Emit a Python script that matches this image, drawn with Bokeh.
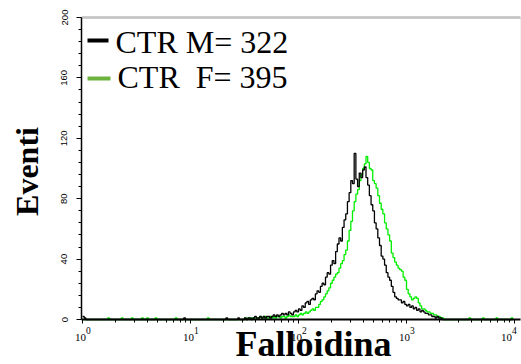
import numpy as np
from math import pi
from bokeh.plotting import figure
from bokeh.models import Range1d, FixedTicker, Label, LabelSet, BoxAnnotation, ColumnDataSource
from bokeh.embed import file_html
from bokeh.resources import INLINE

# ---- data -----------------------------------------------------------
n_channels = 256          # log-scaled channels covering 10^0 .. 10^4
decades = 4

black_counts = [
    2, 1, 0, 0, 0, 0, 0, 0, 0, 0, 0, 0, 0, 0, 0, 0,
    0, 0, 0, 0, 0, 0, 0, 0, 0, 0, 0, 0, 0, 0, 0, 0,
    0, 0, 0, 0, 0, 0, 0, 0, 0, 0, 0, 0, 0, 0, 0, 0,
    0, 0, 0, 0, 0, 0, 0, 0, 0, 0, 0, 0, 1, 0, 0, 0,
    0, 0, 0, 0, 0, 0, 0, 0, 0, 0, 0, 0, 0, 0, 0, 0,
    0, 0, 0, 0, 0, 1, 0, 0, 0, 0, 0, 0, 1, 0, 0, 0,
    1, 0, 1, 1, 0, 1, 2, 1, 1, 2, 1, 2, 1, 2, 2, 1,
    2, 3, 2, 3, 2, 3, 4, 3, 4, 3, 5, 4, 3, 5, 6, 5,
    7, 6, 9, 8, 11, 12, 10, 13, 14, 13, 17, 19, 18, 22, 24, 23,
    28, 31, 30, 36, 39, 37, 45, 50, 54, 52, 61, 66, 70, 78, 84, 92,
    90, 110, 93, 88, 97, 94, 99, 101, 94, 89, 82, 76, 72, 64, 60, 54,
    49, 42, 40, 36, 31, 28, 26, 22, 18, 15, 14, 13, 13, 11, 12, 10,
    9, 10, 8, 9, 7, 8, 6, 7, 5, 6, 5, 4, 4, 3, 3, 2,
    2, 1, 2, 1, 1, 0, 0, 0, 0, 0, 0, 0, 0, 0, 0, 0,
    0, 0, 0, 0, 0, 0, 0, 0, 0, 0, 0, 0, 0, 0, 0, 0,
    0, 0, 0, 0, 0, 0, 0, 0, 0, 0, 0, 0, 0, 0, 0, 0,
]

green_counts = [
    0, 0, 0, 0, 0, 0, 0, 0, 0, 0, 0, 0, 0, 0, 0, 1,
    0, 0, 0, 0, 0, 0, 0, 1, 0, 0, 0, 0, 0, 1, 0, 0,
    0, 0, 0, 1, 0, 0, 1, 0, 0, 0, 0, 1, 0, 0, 0, 0,
    0, 0, 0, 0, 0, 0, 0, 1, 0, 0, 0, 0, 0, 0, 0, 0,
    0, 0, 0, 0, 0, 0, 0, 0, 0, 0, 1, 0, 0, 0, 0, 0,
    0, 0, 0, 0, 0, 0, 0, 0, 0, 0, 0, 0, 0, 0, 0, 0,
    1, 0, 1, 0, 1, 1, 0, 1, 1, 2, 1, 1, 2, 1, 1, 2,
    1, 2, 1, 2, 2, 1, 2, 2, 1, 2, 3, 2, 2, 2, 3, 2,
    3, 4, 3, 4, 5, 4, 5, 6, 7, 6, 8, 8, 10, 12, 13, 15,
    17, 19, 21, 24, 26, 28, 30, 31, 34, 37, 39, 43, 46, 52, 59, 65,
    72, 78, 83, 86, 92, 96, 100, 103, 108, 104, 100, 99, 92, 90, 87, 82,
    77, 73, 70, 64, 60, 56, 52, 44, 41, 38, 36, 34, 33, 32, 28, 26,
    20, 17, 15, 13, 14, 15, 14, 11, 9, 7, 7, 6, 5, 5, 4, 4,
    3, 3, 2, 2, 1, 1, 0, 0, 0, 0, 0, 0, 0, 0, 0, 0,
    0, 0, 0, 0, 0, 1, 0, 0, 0, 0, 0, 0, 0, 1, 0, 0,
    0, 0, 0, 0, 0, 1, 0, 0, 0, 0, 0, 0, 0, 0, 1, 0,
]

legend_labels = ["CTR M= 322", "CTR\u00a0 F= 395"]
x_axis_title = "Falloidina"
y_axis_title = "Eventi"

x_tick_values = [1, 10, 100, 1000, 10000]
x_tick_bases = ["10", "10", "10", "10", "10"]
x_tick_exponents = ["0", "1", "2", "3", "4"]
y_tick_values = [0, 40, 80, 120, 160, 200]
y_minor_values = [8, 16, 24, 32, 48, 56, 64, 72, 88, 96, 104, 112,
                  128, 136, 144, 152, 168, 176, 184, 192]

# ---- layout constants (pixels on the 521x364 canvas) -----------------
W, H = 521, 364
px_decade = 108.0          # pixels per decade on the x axis
px_x0 = 82.0               # pixel column of 10^0
px_left, px_right = 81.0, 520.0
px_top, px_bottom = 17.0, 319.0
y_max = 200.0
px_per_count = (px_bottom - px_top) / y_max
BASE_SHIFT = 0.34          # alphabetic-baseline correction, in em

def xval(px):
    return 10 ** ((px - px_x0) / px_decade)

def sy(baseline_px, size):
    return H - baseline_px + BASE_SHIFT * size

x_lo, x_hi = xval(px_left), xval(px_right)

# ---- figure ---------------------------------------------------------
edges = np.logspace(0, decades, n_channels + 1)
x_minor = [m * 10 ** d for d in range(decades) for m in range(2, 10)]

p = figure(width=W, height=H, x_axis_type="log",
           x_range=Range1d(xval(0), xval(W)),
           y_range=Range1d(-(H - px_bottom) / px_per_count, y_max + px_top / px_per_count),
           output_backend="svg", toolbar_location=None,
           min_border_left=0, min_border_right=0,
           min_border_top=0, min_border_bottom=0)

p.background_fill_color = "white"
p.border_fill_color = "white"
p.outline_line_color = None
p.xgrid.visible = False
p.ygrid.visible = False

# plot-area frame: light right edge, dark top edge
p.add_layout(BoxAnnotation(left=x_lo, right=x_hi, bottom=0, top=y_max,
                           fill_alpha=0, line_color="#cfcfcf", line_width=1,
                           level="underlay"))
p.add_layout(BoxAnnotation(left=x_lo, right=x_hi, bottom=y_max, top=y_max,
                           fill_alpha=0, line_color="#5a5a5a", line_width=3))

p.step(x=edges[:-1], y=green_counts, mode="after", line_color="#00ee00", line_width=1.3)
p.step(x=edges[:-1], y=black_counts, mode="after", line_color="black", line_width=1.3)

# x axis (labels drawn separately as 10 + raised exponent)
xa = p.xaxis[0]
xa.fixed_location = 0
xa.bounds = (x_lo, x_hi)
xa.ticker = FixedTicker(ticks=x_tick_values, minor_ticks=x_minor)
xa.major_label_overrides = {v: "" for v in x_tick_values}
xa.axis_line_width = 2
xa.axis_line_color = "black"
xa.major_tick_in = 0
xa.major_tick_out = 4
xa.minor_tick_in = 0
xa.minor_tick_out = 3
xa.major_tick_line_color = "black"
xa.minor_tick_line_color = "black"

# the last label is nudged left so it stays inside the canvas
label_dx = [3.5] * (len(x_tick_values) - 1) + [-2.5]
tick_src = ColumnDataSource(dict(x=x_tick_values, base=x_tick_bases,
                                 exp=x_tick_exponents, dx=label_dx))
p.add_layout(LabelSet(x="x", y=24, y_units="screen", text="base", source=tick_src,
                      x_offset="dx", text_align="right", text_baseline="alphabetic",
                      text_font="Liberation Sans", text_font_size="11px", text_color="black"))
p.add_layout(LabelSet(x="x", y=30.5, y_units="screen", text="exp", source=tick_src,
                      x_offset="dx", text_align="left", text_baseline="alphabetic",
                      text_font="Liberation Sans", text_font_size="9.5px", text_color="black"))

# y axis
ya = p.yaxis[0]
ya.fixed_location = x_lo
ya.bounds = (0, y_max)
ya.ticker = FixedTicker(ticks=y_tick_values, minor_ticks=y_minor_values)
ya.axis_line_width = 1.5
ya.axis_line_color = "black"
ya.major_tick_in = 0
ya.major_tick_out = 5
ya.minor_tick_in = 0
ya.minor_tick_out = 3
ya.major_tick_line_color = "black"
ya.minor_tick_line_color = "black"
ya.major_label_orientation = "vertical"
ya.major_label_text_font = "Liberation Sans"
ya.major_label_text_font_size = "9.5px"
ya.major_label_text_color = "black"
ya.major_label_standoff = 9

# legend (manual, canvas pixels measured from bottom-left)
p.add_layout(BoxAnnotation(left=87, right=108, bottom=H - 42, top=H - 38,
                           left_units="screen", right_units="screen",
                           bottom_units="screen", top_units="screen",
                           fill_color="black", fill_alpha=1, line_color=None))
p.add_layout(BoxAnnotation(left=87, right=110, bottom=H - 80, top=H - 76,
                           left_units="screen", right_units="screen",
                           bottom_units="screen", top_units="screen",
                           fill_color="#6cb33e", fill_alpha=1, line_color=None))
p.add_layout(Label(x=115, y=sy(52, 32), x_units="screen", y_units="screen",
                   text=legend_labels[0], text_font="Liberation Serif",
                   text_font_size="32px", text_baseline="alphabetic", text_color="black"))
p.add_layout(Label(x=117, y=sy(87, 32), x_units="screen", y_units="screen",
                   text=legend_labels[1], text_font="Liberation Serif",
                   text_font_size="32px", text_baseline="alphabetic", text_color="black"))

# axis titles
p.add_layout(Label(x=39 - 13, y=H - 171, x_units="screen", y_units="screen", angle=pi / 2,
                   text=y_axis_title, text_font="Liberation Serif", text_font_style="bold",
                   text_font_size="32px", text_align="center", text_baseline="alphabetic",
                   text_color="black"))
p.add_layout(Label(x=313, y=sy(356, 36), x_units="screen", y_units="screen",
                   text=x_axis_title, text_font="Liberation Serif", text_font_style="bold",
                   text_font_size="36px", text_align="center", text_baseline="alphabetic",
                   text_color="black"))

open("out.html", "w").write(file_html(p, INLINE))
